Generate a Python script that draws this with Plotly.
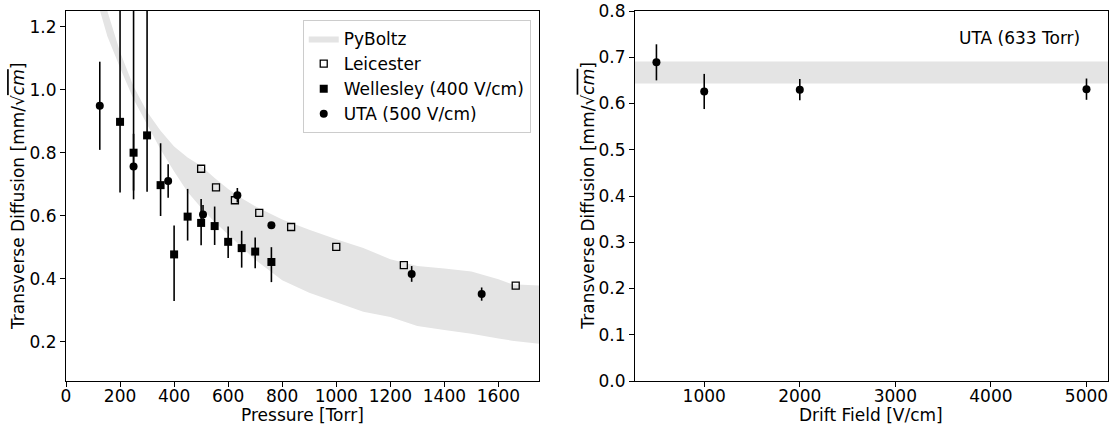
import plotly.graph_objects as go

# ---------------- data ----------------
# PyBoltz band (left panel): pressure grid with lower/upper edges
band_p = [100, 126, 153, 200, 250, 300, 350, 400, 450, 500, 550, 600, 650, 700,
          800, 900, 1000, 1100, 1200, 1300, 1400, 1500, 1600, 1650, 1750]
band_lo = [1.42, 1.25, 1.17, 1.07, 0.97, 0.89, 0.81, 0.74, 0.675, 0.625, 0.58, 0.54, 0.50, 0.46,
           0.395, 0.355, 0.325, 0.295, 0.278, 0.25, 0.237, 0.225, 0.21, 0.203, 0.193]
band_hi = [1.50, 1.36, 1.25, 1.12, 1.01, 0.93, 0.87, 0.82, 0.785, 0.758, 0.72, 0.685, 0.655, 0.63,
           0.588, 0.555, 0.525, 0.497, 0.462, 0.44, 0.432, 0.423, 0.398, 0.382, 0.378]

leicester_p = [500, 555, 625, 715, 833, 1000, 1250, 1664]
leicester_d = [0.749, 0.690, 0.649, 0.609, 0.564, 0.501, 0.443, 0.378]

wellesley_p = [200, 250, 300, 350, 400, 450, 500, 550, 600, 650, 700, 760]
wellesley_d = [0.898, 0.800, 0.855, 0.697, 0.477, 0.597, 0.577, 0.567, 0.517, 0.497, 0.486, 0.453]
wellesley_err_up = [0.60, 0.60, 0.60, 0.133, 0.092, 0.088, 0.076, 0.062, 0.049, 0.055, 0.045, 0.047]
wellesley_err_dn = [0.224, 0.12, 0.179, 0.098, 0.148, 0.076, 0.071, 0.060, 0.051, 0.062, 0.053, 0.064]

uta_p = [125, 250, 378, 507, 634, 760, 1279, 1538]
uta_d = [0.949, 0.756, 0.710, 0.604, 0.665, 0.570, 0.415, 0.351]
uta_err = [0.14, 0.104, 0.053, 0.03, 0.023, 0.006, 0.025, 0.021]

# right panel
field = [500, 1000, 2000, 5000]
field_d = [0.689, 0.626, 0.630, 0.631]
field_err = [0.039, 0.038, 0.023, 0.023]
field_band = [0.643, 0.691]

left_xticks = [0, 200, 400, 600, 800, 1000, 1200, 1400, 1600]
left_yticks = [0.2, 0.4, 0.6, 0.8, 1.0, 1.2]
right_xticks = [1000, 2000, 3000, 4000, 5000]
right_yticks = [0.0, 0.1, 0.2, 0.3, 0.4, 0.5, 0.6, 0.7, 0.8]

# ---------------- figure ----------------
FONT = "DejaVu Sans"
FS = 17
GRAY = "#e4e4e4"

fig = go.Figure()

fig.add_trace(go.Scatter(x=band_p, y=band_lo, mode="lines", line=dict(width=0, color=GRAY),
                         showlegend=False, hoverinfo="skip", xaxis="x", yaxis="y"))
fig.add_trace(go.Scatter(x=band_p, y=band_hi, mode="lines", line=dict(width=0, color=GRAY),
                         fill="tonexty", fillcolor=GRAY, name="PyBoltz", xaxis="x", yaxis="y"))

fig.add_trace(go.Scatter(x=leicester_p, y=leicester_d, mode="markers", name="Leicester",
                         marker=dict(symbol="square-open", size=7, color="black",
                                     line=dict(width=1.3, color="black")),
                         xaxis="x", yaxis="y"))

fig.add_trace(go.Scatter(x=wellesley_p, y=wellesley_d, mode="markers", name="Wellesley (400 V/cm)",
                         marker=dict(symbol="square", size=8, color="black"),
                         error_y=dict(type="data", symmetric=False, array=wellesley_err_up,
                                      arrayminus=wellesley_err_dn, color="black", thickness=1.6, width=0),
                         xaxis="x", yaxis="y"))

fig.add_trace(go.Scatter(x=uta_p, y=uta_d, mode="markers", name="UTA (500 V/cm)",
                         marker=dict(symbol="circle", size=8, color="black"),
                         error_y=dict(type="data", array=uta_err, color="black", thickness=1.6, width=0),
                         xaxis="x", yaxis="y"))

fig.add_trace(go.Scatter(x=field, y=field_d, mode="markers", showlegend=False,
                         marker=dict(symbol="circle", size=8, color="black"),
                         error_y=dict(type="data", array=field_err, color="black", thickness=1.6, width=0),
                         xaxis="x2", yaxis="y2"))

fig.add_shape(type="rect", xref="x2 domain", yref="y2", x0=0, x1=1,
              y0=field_band[0], y1=field_band[1], fillcolor=GRAY, line=dict(width=0), layer="below")

axis_common = dict(showline=True, linecolor="black", linewidth=1.1, mirror=True,
                   ticks="outside", ticklen=5, tickwidth=1.1, tickcolor="black",
                   showgrid=False, zeroline=False, automargin=False,
                   tickfont=dict(family=FONT, size=FS, color="black"))

fig.update_layout(
    width=1115, height=427,
    margin=dict(l=66, r=7, t=11, b=46),
    paper_bgcolor="white", plot_bgcolor="white",
    font=dict(family=FONT, size=FS, color="black"),
    xaxis=dict(domain=[0, 0.4539], range=[0, 1750], tickvals=left_xticks, ticklabelstandoff=-5,
               **axis_common),
    yaxis=dict(domain=[0, 1], range=[0.075, 1.25], tickvals=left_yticks, tickformat=".1f", **axis_common),
    xaxis2=dict(domain=[0.546, 1.0], range=[275, 5225], tickvals=right_xticks, anchor="y2",
                ticklabelstandoff=-5, **axis_common),
    yaxis2=dict(domain=[0, 1], range=[0, 0.8], tickvals=right_yticks, tickformat=".1f", anchor="x2",
                **axis_common),
    legend=dict(x=0.446, y=0.976, xanchor="right", yanchor="top", traceorder="normal",
                bgcolor="white", bordercolor="#cccccc", borderwidth=1,
                font=dict(family=FONT, size=FS, color="black"),
                tracegroupgap=0, itemwidth=30),
    showlegend=True,
)

ylab = "Transverse Diffusion [mm/√<span style='text-decoration:overline'><i>cm</i></span>]"
fig.add_annotation(text=ylab, xref="paper", yref="paper", x=-0.046, y=0.5, textangle=-90,
                   showarrow=False, xanchor="center", yanchor="middle",
                   font=dict(family=FONT, size=FS, color="black"))
fig.add_annotation(text=ylab, xref="paper", yref="paper", x=0.5006, y=0.5, textangle=-90,
                   showarrow=False, xanchor="center", yanchor="middle",
                   font=dict(family=FONT, size=FS, color="black"))
fig.add_annotation(text="Pressure [Torr]", xref="x domain", yref="paper", x=0.5, y=-0.1243,
                   showarrow=False, xanchor="center", yanchor="bottom",
                   font=dict(family=FONT, size=FS, color="black"))
fig.add_annotation(text="Drift Field [V/cm]", xref="x2 domain", yref="paper", x=0.5, y=-0.1243,
                   showarrow=False, xanchor="center", yanchor="bottom",
                   font=dict(family=FONT, size=FS, color="black"))
fig.add_annotation(text="UTA (633 Torr)", xref="x2 domain", yref="y2 domain", x=0.946, y=0.926,
                   showarrow=False, xanchor="right", yanchor="middle",
                   font=dict(family=FONT, size=FS, color="black"))

fig.write_html("out.html", config={"displayModeBar": False},
               post_script="document.body.style.margin='0';")
